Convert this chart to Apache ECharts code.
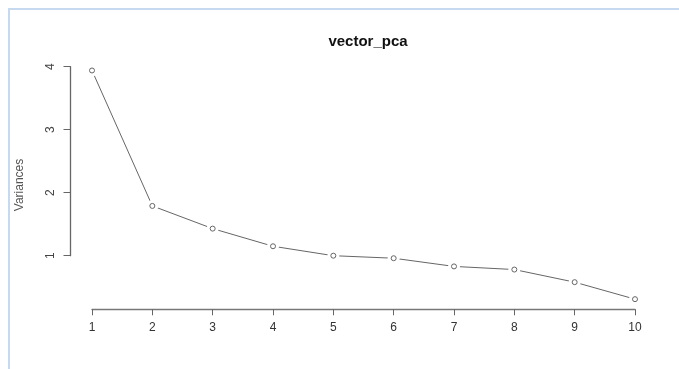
<!DOCTYPE html>
<html>
<head>
<meta charset="utf-8">
<script src="https://cdn.jsdelivr.net/npm/echarts@6/dist/echarts.min.js"></script>
<style>
html,body{margin:0;padding:0;background:#fff;}
#c{width:679px;height:369px;}
</style>
</head>
<body>
<div id="c"></div>
<script>
const components = [1, 2, 3, 4, 5, 6, 7, 8, 9, 10];
const variances = [3.94, 1.79, 1.43, 1.15, 1.0, 0.96, 0.83, 0.78, 0.58, 0.31];
const yTicks = [1, 2, 3, 4];
const titleText = 'vector_pca';
const yName = 'Variances';

const pts = components.map((c, i) => [c, variances[i]]);
const chart = echarts.init(document.getElementById('c'), null, {renderer: 'canvas'});
const font = 'Liberation Sans, Arial, sans-serif';
chart.setOption({
  animation: false,
  backgroundColor: '#fff',
  title: {
    text: titleText, left: 363, top: 29, textAlign: 'center',
    textStyle: {fontFamily: font, fontSize: 15, fontWeight: 'bold', color: '#111'}
  },
  graphic: [
    {type: 'rect', shape: {x: 8, y: 8, width: 700, height: 2}, style: {fill: '#c6d9f0'}},
    {type: 'rect', shape: {x: 8, y: 8, width: 2, height: 400}, style: {fill: '#c6d9f0'}},
    {type: 'text', x: 20, y: 185, rotation: Math.PI / 2,
     style: {text: yName, fontFamily: font, fontSize: 12, fill: '#555', align: 'center', verticalAlign: 'middle'}}
  ],
  grid: {left: 92, right: 44, top: 66.7, bottom: 113.3, containLabel: false},
  xAxis: {
    type: 'value', min: 1, max: 10, interval: 1, offset: 53.6,
    splitLine: {show: false},
    axisLine: {show: true, lineStyle: {color: '#777', width: 1.3}},
    axisTick: {show: true, length: 6, lineStyle: {color: '#666'}},
    axisLabel: {margin: 12, fontFamily: font, fontSize: 12, color: '#333',
      formatter: v => components.includes(v) ? String(v) : ''}
  },
  yAxis: {
    type: 'value', min: yTicks[0], max: yTicks[yTicks.length - 1], interval: 1, offset: 21.5,
    splitLine: {show: false},
    axisLine: {show: true, lineStyle: {color: '#666', width: 1.3}},
    axisTick: {show: true, length: 7, lineStyle: {color: '#666'}},
    axisLabel: {rotate: 90, margin: 14, fontFamily: font, fontSize: 12, color: '#444'}
  },
  series: [
    {type: 'line', data: pts, showSymbol: false, clip: false, z: 1,
     lineStyle: {color: '#666', width: 1}},
    {type: 'scatter', data: pts, clip: false, symbolSize: 12, z: 2,
     itemStyle: {color: '#fff', opacity: 1}},
    {type: 'scatter', data: pts, clip: false, symbolSize: 5, z: 3,
     itemStyle: {color: '#fff', borderColor: '#666', borderWidth: 1, opacity: 1}}
  ]
});
</script>
</body>
</html>
